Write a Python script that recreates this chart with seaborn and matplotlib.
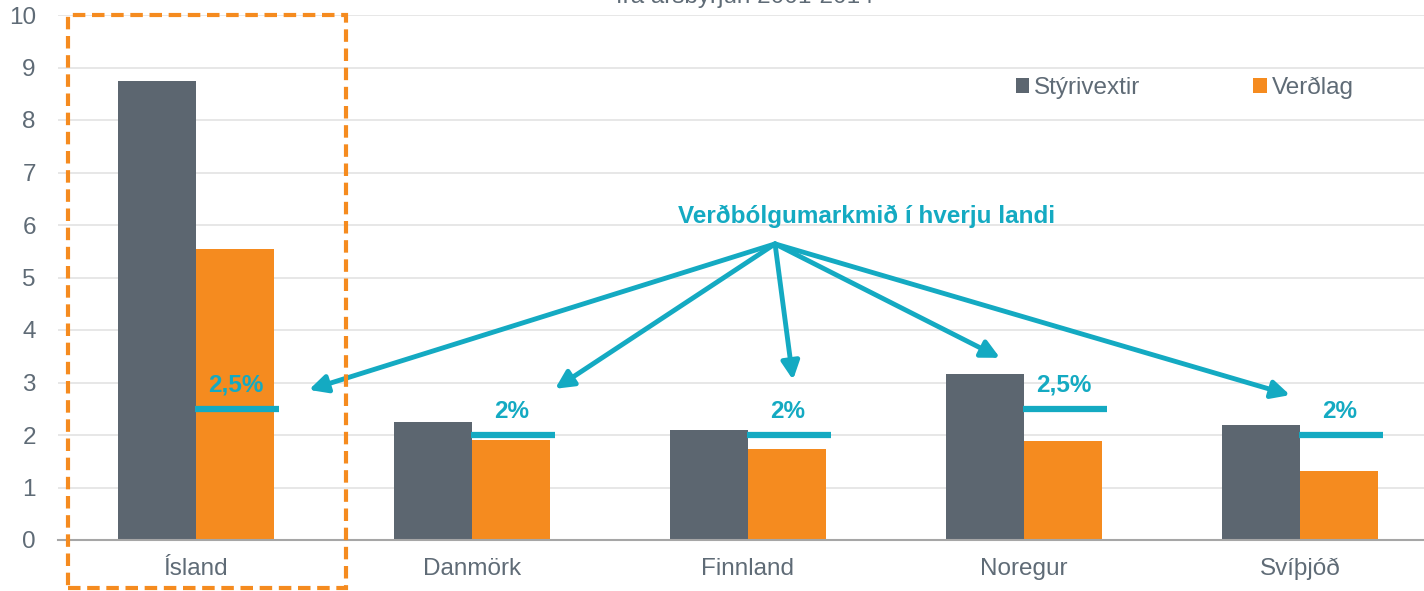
import matplotlib
matplotlib.use("Agg")
import matplotlib.pyplot as plt
import seaborn as sns
import pandas as pd
from matplotlib.patches import Rectangle

# ---- data ----
lond = ["Ísland", "Danmörk", "Finnland", "Noregur", "Svíþjóð"]
styrivextir = [8.74, 2.25, 2.10, 3.16, 2.19]
verdlag = [5.54, 1.90, 1.73, 1.89, 1.31]
markmid = [2.5, 2.0, 2.0, 2.5, 2.0]
markmid_texti = ["2,5%", "2%", "2%", "2,5%", "2%"]
series_names = ["Stýrivextir", "Verðlag"]
yticks = list(range(0, 11))
title_text = "frá ársbyrjun 2001-2014"
note_text = "Verðbólgumarkmið í hverju landi"
# arrow geometry (data units)
arrow_origin = (2.098, 5.64)
arrow_tips_x = [0.409, 1.301, 2.163, 2.913, 3.964]
arrow_tips_y = [2.86, 2.88, 3.05, 3.47, 2.76]

GRAY = "#5c6670"
ORANGE = "#f58b1f"
TEAL = "#14aac2"
TXT = "#5f6b76"

df = pd.DataFrame({
    "land": lond * 2,
    "value": styrivextir + verdlag,
    "series": [series_names[0]] * len(lond) + [series_names[1]] * len(lond),
})

sns.set_theme(style="white")
plt.rcParams["font.family"] = ["Liberation Sans", "DejaVu Sans"]

W, H = 1424, 591
FS = 17.5
fig = plt.figure(figsize=(W / 100, H / 100), dpi=100)
ax = fig.add_axes([58 / W, 51 / H, 1380 / W, 525 / H])

sns.barplot(data=df, x="land", y="value", hue="series", order=lond,
            hue_order=series_names, palette=[GRAY, ORANGE], saturation=1,
            width=0.565, ax=ax, legend=True, edgecolor="none", linewidth=0)

ax.set_xlim(-0.5, 4.5)
ax.set_ylim(0, 10)
ax.set_yticks(yticks)
ax.set_yticklabels([str(t) for t in yticks])
ax.set_xlabel("")
ax.set_ylabel("")
for y in yticks[1:]:
    ax.axhline(y, color="#e3e3e3", lw=1.2, zorder=0)
ax.set_axisbelow(True)
for s in ["top", "right", "left"]:
    ax.spines[s].set_visible(False)
ax.spines["bottom"].set_color("#a6a6a6")
ax.spines["bottom"].set_linewidth(1.5)
ax.tick_params(axis="y", length=0, labelsize=FS, labelcolor=TXT, pad=16)
ax.tick_params(axis="x", length=0, labelsize=FS, labelcolor=TXT, pad=13)

# target lines and labels
for i, (t, lab) in enumerate(zip(markmid, markmid_texti)):
    ax.hlines(t, i - 0.005, i + 0.30, color=TEAL, lw=4.5, zorder=5)
    ax.annotate(lab, (i + 0.145, t), xytext=(0, 9), textcoords="offset points",
                ha="center", va="bottom", fontsize=FS, fontweight="bold",
                color=TEAL, zorder=6)

# arrows
for tx, ty in zip(arrow_tips_x, arrow_tips_y):
    ax.annotate("", xy=(tx, ty), xytext=arrow_origin,
                arrowprops=dict(arrowstyle="-|>,head_length=0.9,head_width=0.45",
                                color=TEAL, lw=3.5, shrinkA=0, shrinkB=0),
                zorder=6)
ax.text(2.431, 6.17, note_text, ha="center", va="center", fontsize=FS,
        fontweight="bold", color=TEAL)

# dashed highlight box
rect = Rectangle((-0.464, -0.914), 1.007, 10.914, fill=False, edgecolor=ORANGE,
                 lw=3, linestyle=(0, (3, 1.6)), clip_on=False, zorder=7)
ax.add_patch(rect)

# legend
handles, labels = ax.get_legend_handles_labels()
ax.legend(handles, labels, loc="upper left", bbox_to_anchor=(994 / W, 1 - 55 / H),
          bbox_transform=fig.transFigure, ncol=2, frameon=False, fontsize=FS,
          handlelength=0.55, handleheight=0.55, handletextpad=0.2,
          columnspacing=4.65, labelcolor=TXT)

fig.text(745 / W, 1 - 3 / H, title_text, ha="center", va="baseline",
         fontsize=FS, color=TXT)

fig.savefig("out.png", dpi=100)
